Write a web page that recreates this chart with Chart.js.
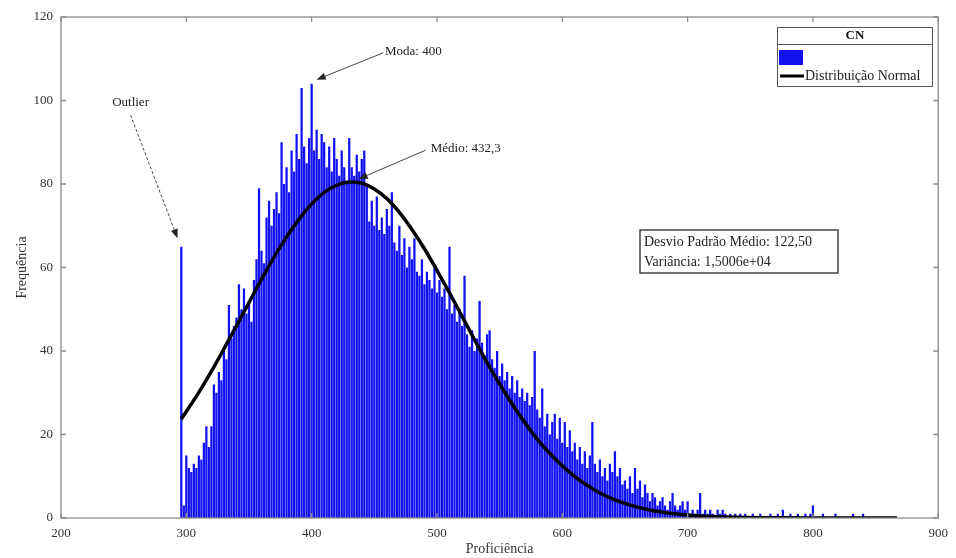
<!DOCTYPE html>
<html lang="pt">
<head>
<meta charset="UTF-8">
<title>Histograma de Proficiência - CN</title>
<style>
  body { margin: 0; background: #fff; }
  #wrap { width: 956px; height: 558px; }
</style>
<script src="https://cdn.jsdelivr.net/npm/chart.js"></script>
</head>
<body>
<div id="wrap"><canvas id="histChart" width="956" height="558"></canvas></div>

<script>
// histogram: bins 2 points wide, first bin centred on 296 (the outlier)
var binStart = 296;
var binWidth = 2;
var frequencies = [
  65, 3, 15, 12, 11, 13, 12, 15, 14, 18,
  22, 17, 22, 32, 30, 35, 33, 40, 38, 51,
  43, 46, 48, 56, 50, 55, 49, 52, 47, 57,
  62, 79, 64, 61, 72, 76, 70, 74, 78, 73,
  90, 80, 84, 78, 88, 83, 92, 86, 103, 89,
  85, 91, 104, 88, 93, 86, 92, 90, 84, 89,
  83, 91, 86, 82, 88, 84, 80, 91, 84, 82,
  87, 83, 86, 88, 80, 71, 76, 70, 77, 69,
  72, 68, 74, 70, 78, 66, 64, 70, 63, 67,
  60, 65, 62, 67, 59, 58, 62, 56, 59, 57,
  55, 60, 54, 57, 53, 55, 50, 65, 49, 51,
  47, 50, 46, 58, 44, 41, 45, 40, 43, 52,
  42, 39, 44, 45, 38, 36, 40, 34, 37, 33,
  35, 31, 34, 30, 33, 29, 31, 28, 30, 27,
  29, 40, 26, 24, 31, 22, 25, 20, 23, 25,
  19, 24, 18, 23, 17, 21, 16, 18, 14, 17,
  13, 16, 12, 15, 23, 13, 11, 14, 10, 12,
  9, 13, 11, 16, 10, 12, 8, 9, 7, 10,
  6, 12, 7, 9, 5, 8, 6, 4, 6, 5,
  3, 4, 5, 3, 2, 4, 6, 3, 2, 3,
  4, 2, 4, 1, 2, 1, 2, 6, 1, 2,
  1, 2, 1, 0, 2, 1, 2, 1, 0, 1,
  0, 1, 0, 1, 0, 1, 0, 0, 1, 0,
  0, 1, 0, 0, 0, 1, 0, 0, 1, 0,
  2, 0, 0, 1, 0, 0, 1, 0, 0, 1,
  0, 1, 3, 0, 0, 0, 1, 0, 0, 0,
  0, 1, 0, 0, 0, 0, 0, 0, 1, 0,
  0, 0, 1, 0, 0, 0, 0, 0, 0, 0,
  0, 0, 0, 0, 0, 0
];

// fitted normal curve
var curveX = [296, 300, 310, 320, 330, 340, 350, 360, 370, 380, 390, 400, 410, 420, 430,
  440, 450, 460, 470, 480, 490, 500, 510, 520, 530, 540, 550, 560, 570, 580, 590, 600,
  610, 620, 630, 640, 650, 660, 670, 680, 690, 700, 710, 720, 740, 760, 780, 800, 830, 867];
var curveY = [23.7, 25.5, 30.1, 35.1, 40.5, 46.0, 51.6, 57.2, 62.5, 67.3, 71.6, 75.2, 78.0, 79.7, 80.5,
  80.2, 78.8, 76.5, 73.2, 69.1, 64.5, 59.3, 53.9, 48.3, 42.7, 37.2, 32.1, 27.3, 22.9, 18.9, 15.5, 12.5,
  9.9, 7.8, 6.0, 4.6, 3.5, 2.6, 1.9, 1.4, 1.0, 0.7, 0.5, 0.35, 0.15, 0.07, 0.03, 0.01, 0, 0];

var xTicks = [200, 300, 400, 500, 600, 700, 800, 900];
var yTicks = [0, 20, 40, 60, 80, 100, 120];

var histPoints = frequencies.map(function (f, i) { return { x: binStart + i * binWidth, y: f }; });
var curvePoints = curveX.map(function (x, i) { return { x: x, y: curveY[i] }; });

var serif = '"Liberation Serif", "DejaVu Serif", serif';
var barBlue = 'rgb(18, 18, 240)';

function arrow(ctx, x1, y1, x2, y2, dashed) {
  var ang = Math.atan2(y2 - y1, x2 - x1);
  var hx = x2 - 9 * Math.cos(ang), hy = y2 - 9 * Math.sin(ang);
  ctx.save();
  ctx.strokeStyle = '#444';
  ctx.fillStyle = '#222';
  ctx.lineWidth = 1;
  if (dashed) ctx.setLineDash([3, 2]);
  ctx.beginPath();
  ctx.moveTo(x1, y1);
  ctx.lineTo(hx, hy);
  ctx.stroke();
  ctx.setLineDash([]);
  ctx.beginPath();
  ctx.moveTo(x2, y2);
  ctx.lineTo(hx + 3.5 * Math.sin(ang), hy - 3.5 * Math.cos(ang));
  ctx.lineTo(hx - 3.5 * Math.sin(ang), hy + 3.5 * Math.cos(ang));
  ctx.closePath();
  ctx.fill();
  ctx.restore();
}

// box, inward ticks, annotations, stats box and legend (MATLAB look)
var decorations = {
  id: 'decorations',
  afterDraw: function (chart) {
    var ctx = chart.ctx, a = chart.chartArea;
    var xs = chart.scales.x, ys = chart.scales.y;
    ctx.save();
    ctx.strokeStyle = '#8a8a8a';
    ctx.lineWidth = 1.3;
    ctx.strokeRect(a.left, a.top, a.right - a.left, a.bottom - a.top);
    ctx.beginPath();
    xTicks.forEach(function (v) {
      var px = xs.getPixelForValue(v);
      ctx.moveTo(px, a.bottom); ctx.lineTo(px, a.bottom - 5);
      ctx.moveTo(px, a.top); ctx.lineTo(px, a.top + 5);
    });
    yTicks.forEach(function (v) {
      var py = ys.getPixelForValue(v);
      ctx.moveTo(a.left, py); ctx.lineTo(a.left + 5, py);
      ctx.moveTo(a.right, py); ctx.lineTo(a.right - 5, py);
    });
    ctx.stroke();

    // annotations
    ctx.fillStyle = '#222';
    ctx.font = '13px ' + serif;
    ctx.textBaseline = 'middle';
    ctx.textAlign = 'center';
    ctx.fillText('Outlier', xs.getPixelForValue(255.5), ys.getPixelForValue(99.4));
    arrow(ctx, xs.getPixelForValue(255.5), ys.getPixelForValue(96.5),
      xs.getPixelForValue(293), ys.getPixelForValue(67), true);
    ctx.textAlign = 'left';
    ctx.fillText('Moda: 400', xs.getPixelForValue(458.5), ys.getPixelForValue(111.6));
    arrow(ctx, xs.getPixelForValue(457), ys.getPixelForValue(111.4),
      xs.getPixelForValue(404), ys.getPixelForValue(105));
    ctx.fillText('Médio: 432,3', xs.getPixelForValue(495), ys.getPixelForValue(88.6));
    arrow(ctx, xs.getPixelForValue(491), ys.getPixelForValue(88.1),
      xs.getPixelForValue(437.5), ys.getPixelForValue(81.2));

    // stats box
    ctx.fillStyle = '#fff';
    ctx.fillRect(640, 230, 198, 43);
    ctx.strokeStyle = '#444';
    ctx.lineWidth = 1.5;
    ctx.strokeRect(640, 230, 198, 43);
    ctx.fillStyle = '#222';
    ctx.font = '14px ' + serif;
    ctx.fillText('Desvio Padrão Médio: 122,50', 644, 242);
    ctx.fillText('Variância: 1,5006e+04', 644, 262);

    // legend
    var bars = chart.data.datasets[1], line = chart.data.datasets[0];
    ctx.fillStyle = '#fff';
    ctx.fillRect(777, 27, 156, 60);
    ctx.strokeStyle = '#555';
    ctx.lineWidth = 1;
    ctx.strokeRect(777.5, 27.5, 155, 59);
    ctx.beginPath();
    ctx.moveTo(777.5, 44.5); ctx.lineTo(932.5, 44.5);
    ctx.stroke();
    ctx.fillStyle = '#111';
    ctx.font = 'bold 13px ' + serif;
    ctx.textAlign = 'center';
    ctx.fillText('CN', 855, 36);
    ctx.fillStyle = bars.backgroundColor;
    ctx.fillRect(779, 50, 24, 15);
    ctx.strokeStyle = line.borderColor;
    ctx.lineWidth = 3;
    ctx.beginPath();
    ctx.moveTo(780, 76); ctx.lineTo(804, 76);
    ctx.stroke();
    ctx.fillStyle = '#222';
    ctx.font = '14px ' + serif;
    ctx.textAlign = 'left';
    ctx.fillText(line.label, 805, 76);
    ctx.restore();
  }
};

new Chart(document.getElementById('histChart'), {
  type: 'bar',
  data: {
    datasets: [{
      type: 'line',
      label: 'Distribuição Normal',
      data: curvePoints,
      borderColor: '#000',
      borderWidth: 3.5,
      borderCapStyle: 'butt',
      pointRadius: 0,
      cubicInterpolationMode: 'monotone',
      fill: false,
      order: 1
    }, {
      label: 'CN',
      data: histPoints,
      backgroundColor: barBlue,
      borderWidth: 0,
      barPercentage: 1,
      categoryPercentage: 0.9,
      order: 2
    }]
  },
  options: {
    responsive: false,
    animation: false,
    devicePixelRatio: 1,
    layout: { padding: { left: 0, right: 13, top: 17, bottom: 0 } },
    plugins: { legend: { display: false }, tooltip: { enabled: false } },
    scales: {
      x: {
        type: 'linear',
        min: 200,
        max: 900,
        offset: false,
        grid: { display: false, offset: false, drawTicks: false },
        border: { display: false },
        ticks: { stepSize: 100, padding: 8, color: '#333', font: { family: serif, size: 13 } },
        title: { display: true, text: 'Proficiência', color: '#333', padding: { top: 0, bottom: 0 },
          font: { family: serif, size: 14 } },
        afterFit: function (scale) { scale.height = 40; }
      },
      y: {
        min: 0,
        max: 120,
        grid: { display: false, drawTicks: false },
        border: { display: false },
        ticks: { stepSize: 20, padding: 8, color: '#333', font: { family: serif, size: 13 } },
        title: { display: true, text: 'Frequência', color: '#333', padding: { top: 14, bottom: 0 },
          font: { family: serif, size: 14 } },
        afterFit: function (scale) { scale.width = 61; }
      }
    }
  },
  plugins: [decorations]
});
</script>
</body>
</html>
